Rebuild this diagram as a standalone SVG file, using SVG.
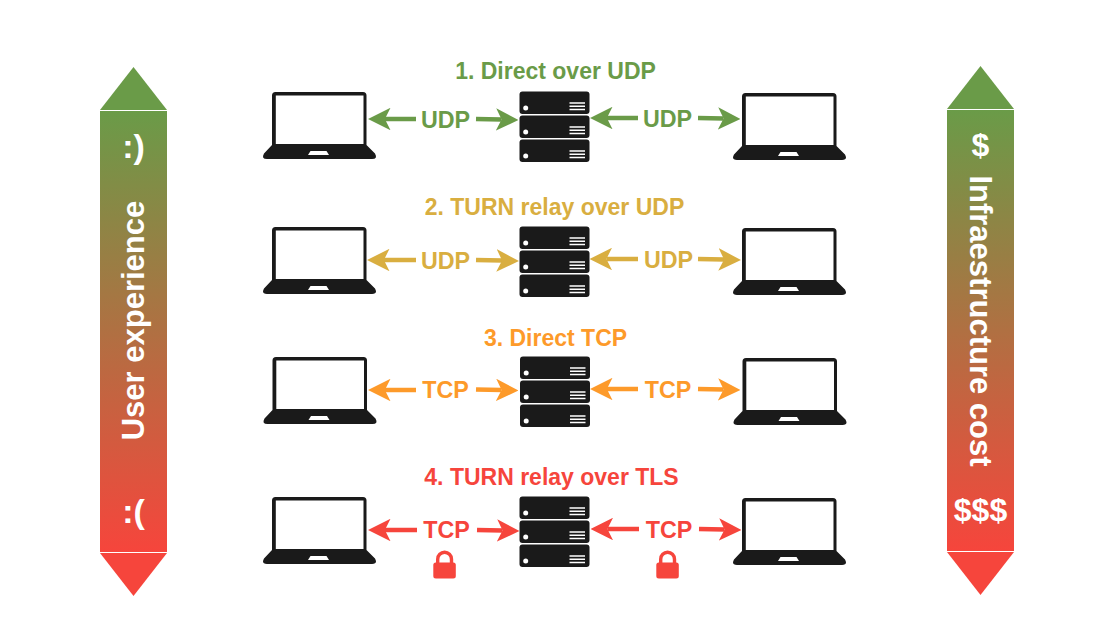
<svg xmlns="http://www.w3.org/2000/svg" width="1120" height="640" viewBox="0 0 1120 640">
<style>
text{font-family:"Liberation Sans",Arial,sans-serif;font-weight:700;text-anchor:middle}
.t{font-size:23px}.l{font-size:23.3px}.w{fill:#fff}
.k{fill:#1a1a1a}
.c1{fill:#6a9b48}.c2{fill:#d9ae40}.c3{fill:#fd9a2a}.c4{fill:#f6453c}
.a{stroke-width:4.5;fill:none}
</style>
<defs>
<linearGradient id="g" x1="0" y1="0" x2="0" y2="1"><stop offset="0" stop-color="#6a9b48"/><stop offset="1" stop-color="#f6453c"/></linearGradient>
<g id="laptop">
<path class="k" fill-rule="evenodd" d="M13 0H100.500Q104 0 104 3.500V53L112.500 61.500Q115.500 67 109.500 67H4.500Q-1.500 67 1.500 61.500L9.500 53V3.500Q9.500 0 13 0ZM13.300 3.500V52H101V3.500Z"/>
<path fill="#fff" d="M48 59H64L66.500 63H45.500Z"/>
</g>
<g id="srv">
<rect class="k" width="70" height="22.500" rx="3"/><circle cx="6.200" cy="16.500" r="2.500" fill="#fff"/>
<path d="M50 11.500H65.500M50 14.800H65.500M50 18H65.500" stroke="#fff" stroke-width="1.500"/>
</g>
<g id="server"><use href="#srv"/><use href="#srv" y="24"/><use href="#srv" y="48"/></g>
<g id="lock"><path d="M4.400 14V8.700A6.900 6.900 0 0 1 18.200 8.700V14" fill="none" stroke="#f6453c" stroke-width="3.400"/><rect y="12" width="22.500" height="16" rx="2.500" fill="#f6453c"/></g>
<marker id="m1" viewBox="0 0 10 10" refX="2.500" refY="5" markerWidth="5" markerHeight="5" orient="auto" markerUnits="strokeWidth"><path d="M0 0L10 5L0 10L2.500 5Z" fill="#6a9b48"/></marker>
<marker id="m2" viewBox="0 0 10 10" refX="2.500" refY="5" markerWidth="5" markerHeight="5" orient="auto" markerUnits="strokeWidth"><path d="M0 0L10 5L0 10L2.500 5Z" fill="#d9ae40"/></marker>
<marker id="m3" viewBox="0 0 10 10" refX="2.500" refY="5" markerWidth="5" markerHeight="5" orient="auto" markerUnits="strokeWidth"><path d="M0 0L10 5L0 10L2.500 5Z" fill="#fd9a2a"/></marker>
<marker id="m4" viewBox="0 0 10 10" refX="2.500" refY="5" markerWidth="5" markerHeight="5" orient="auto" markerUnits="strokeWidth"><path d="M0 0L10 5L0 10L2.500 5Z" fill="#f6453c"/></marker>
</defs>
<rect width="1120" height="640" fill="#fff"/>
<g id="ux-scale">
<path d="M133.500 67L167 110H100Z" fill="#6a9b48"/><rect x="100" y="111" width="67" height="441" fill="url(#g)"/><path d="M100 553H167L133.500 596Z" fill="#f6453c"/>
<text class="w" transform="translate(133.500 158)" style="font-size:34px">:)</text>
<text class="w" transform="translate(144 320.500) rotate(-90)" style="font-size:31px">User experience</text>
<text class="w" transform="translate(133.500 523)" style="font-size:34px">:(</text>
</g>
<g id="cost-scale">
<path d="M980.500 66L1014 109H947Z" fill="#6a9b48"/><rect x="947" y="110" width="67" height="441" fill="url(#g)"/><path d="M947 552H1014L980.500 595Z" fill="#f6453c"/>
<text class="w" x="980.500" y="156" style="font-size:32px">$</text>
<text class="w" transform="translate(970 321) rotate(90)" style="font-size:31px">Infraestructure cost</text>
<text class="w" x="980.500" y="521" style="font-size:32px">$$$</text>
</g>
<g id="titles">
<text class="t c1" x="555.500" y="79">1. Direct over UDP</text>
<text class="t c2" x="554.500" y="215">2. TURN relay over UDP</text>
<text class="t c3" x="555.500" y="346">3. Direct TCP</text>
<text class="t c4" x="551.500" y="485">4. TURN relay over TLS</text>
</g>
<g id="row1-client-a"><use href="#laptop" x="262.500" y="92"/></g>
<g id="row1-server"><use href="#server" x="519.500" y="91.500"/></g>
<g id="row1-client-b"><use href="#laptop" x="732.500" y="93"/></g>
<g id="row2-client-a"><use href="#laptop" x="262.500" y="227"/></g>
<g id="row2-server"><use href="#server" x="519.500" y="226.500"/></g>
<g id="row2-client-b"><use href="#laptop" x="732.500" y="228"/></g>
<g id="row3-client-a"><use href="#laptop" x="263" y="357"/></g>
<g id="row3-server"><use href="#server" x="520" y="356.500"/></g>
<g id="row3-client-b"><use href="#laptop" x="733" y="358"/></g>
<g id="row4-client-a"><use href="#laptop" x="262.500" y="497"/></g>
<g id="row4-server"><use href="#server" x="519.500" y="496.500"/></g>
<g id="row4-client-b"><use href="#laptop" x="732.500" y="498"/></g>
<g id="connectors" class="a">
<g stroke="#6a9b48"><path d="M416 119H384.900" marker-end="url(#m1)"/><path d="M476 119L501.600 119.600" marker-end="url(#m1)"/><path d="M638 118H606.900" marker-end="url(#m1)"/><path d="M698 118L723.600 118.600" marker-end="url(#m1)"/></g>
<g stroke="#d9ae40"><path d="M416 260H383.900" marker-end="url(#m2)"/><path d="M476 260L502.100 260.600" marker-end="url(#m2)"/><path d="M638 259H606.400" marker-end="url(#m2)"/><path d="M698 259L724.100 259.600" marker-end="url(#m2)"/></g>
<g stroke="#fd9a2a"><path d="M416 390H384.900" marker-end="url(#m3)"/><path d="M476 389.500L501.600 390.100" marker-end="url(#m3)"/><path d="M638 389H606.900" marker-end="url(#m3)"/><path d="M698 389L723.600 389.600" marker-end="url(#m3)"/></g>
<g stroke="#f6453c"><path d="M417 530H384.900" marker-end="url(#m4)"/><path d="M477 530L502.600 530.600" marker-end="url(#m4)"/><path d="M639 529H607.400" marker-end="url(#m4)"/><path d="M699 529L724.600 529.600" marker-end="url(#m4)"/></g>
</g>
<g id="labels">
<text class="l c1" x="445.500" y="128">UDP</text><text class="l c1" x="667.500" y="127">UDP</text>
<text class="l c2" x="445.500" y="269">UDP</text><text class="l c2" x="668.500" y="268">UDP</text>
<text class="l c3" x="445.500" y="398">TCP</text><text class="l c3" x="668" y="398">TCP</text>
<text class="l c4" x="446.500" y="538">TCP</text><text class="l c4" x="669" y="538">TCP</text>
</g>
<g id="lock-left"><use href="#lock" x="433.300" y="550.500"/></g>
<g id="lock-right"><use href="#lock" x="656.300" y="550.500"/></g>
</svg>
